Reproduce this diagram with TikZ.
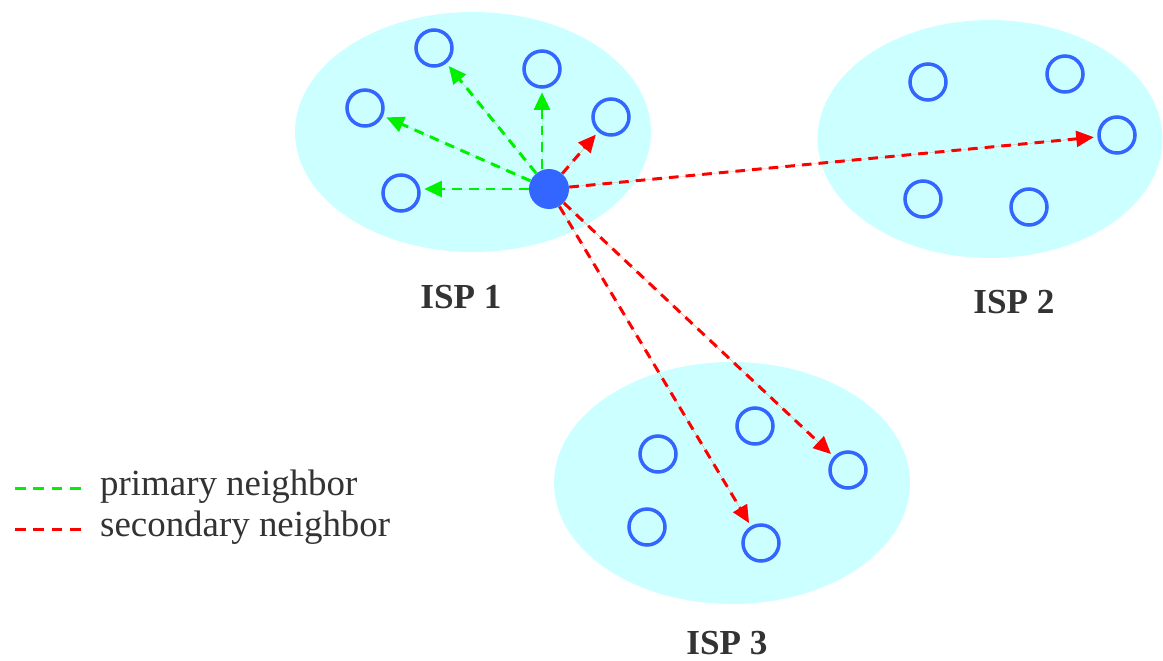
\documentclass[tikz,border=0pt]{standalone}
\usepackage{fontspec}
\setmainfont{Liberation Serif}
\usetikzlibrary{arrows.meta,shapes.geometric}
\definecolor{ispfill}{HTML}{CCFFFF}
\definecolor{peerblue}{HTML}{3366FF}
\definecolor{primgreen}{HTML}{00F000}
\definecolor{secred}{HTML}{FF0000}
\definecolor{labeltext}{HTML}{333333}

\begin{document}
\begin{tikzpicture}[
    x=0.02cm,y=-0.02cm,
    isp/.style={ellipse,fill=ispfill,inner sep=0pt},
    peer/.style={circle,draw=peerblue,line width=2pt,minimum size=0.72cm,inner sep=0pt},
    src/.style={circle,fill=peerblue,minimum size=0.8cm,inner sep=0pt},
    link/.style={line width=1.7pt,dash pattern=on 5.5pt off 4pt,-{Triangle[length=10pt,width=9pt]},shorten >=2pt},
    prim/.style={link,draw=primgreen,fill=primgreen},
    sec/.style={link,draw=secred,fill=secred},
    key/.style={line width=1.7pt,dash pattern=on 6pt off 4.5pt},
    ispname/.style={font=\fontsize{20}{24}\selectfont\bfseries,text=labeltext},
    legend/.style={font=\fontsize{21}{25}\selectfont,text=labeltext,anchor=west}
]
    \useasboundingbox (0,0) rectangle (1163,660);

    % the three ISPs
    \node[isp,minimum width=7.12cm,minimum height=4.8cm] (isp1) at (473,132) {};
    \node[isp,minimum width=6.9cm,minimum height=4.76cm] (isp2) at (990,139) {};
    \node[isp,minimum width=7.12cm,minimum height=4.84cm] (isp3) at (732,483) {};
    \node[ispname] (isp1name) at (461,297) {ISP 1};
    \node[ispname] (isp2name) at (1014,302) {ISP 2};
    \node[ispname] (isp3name) at (727,643) {ISP 3};

    % peers in ISP 1
    \node[src] (s) at (549,189) {};
    \node[peer] (a1) at (434,48) {};
    \node[peer] (a2) at (542,69) {};
    \node[peer] (a3) at (365,108) {};
    \node[peer] (a4) at (611,117) {};
    \node[peer] (a5) at (401,193) {};

    % peers in ISP 2
    \node[peer] (b1) at (928,82) {};
    \node[peer] (b2) at (1065,74) {};
    \node[peer] (b3) at (1117,135) {};
    \node[peer] (b4) at (923,199) {};
    \node[peer] (b5) at (1029,207) {};

    % peers in ISP 3
    \node[peer] (c1) at (658,454) {};
    \node[peer] (c2) at (755,426) {};
    \node[peer] (c3) at (848,470) {};
    \node[peer] (c4) at (647,527) {};
    \node[peer] (c5) at (761,543) {};

    % neighbor links
    \draw[prim] (s) -- (a1);
    \draw[prim] (s.north -| a2) -- (a2);
    \draw[prim] (s) -- (a3);
    \draw[prim] (s.west) -- (a5.east |- s.west);
    \draw[sec] (s) -- (a4);
    \draw[sec] (s) -- (b3);
    \draw[sec] (s) -- (c3);
    \draw[sec] (s) -- (c5);

    % legend
    \node[legend] (lprim) at (94,487) {primary neighbor};
    \node[legend] (lsec) at (94,528) {secondary neighbor};
    \draw[key,draw=primgreen] (lprim.west) ++(-79,1) -- ++(68,0);
    \draw[key,draw=secred] (lsec.west) ++(-79,1) -- ++(68,0);
\end{tikzpicture}
\end{document}
